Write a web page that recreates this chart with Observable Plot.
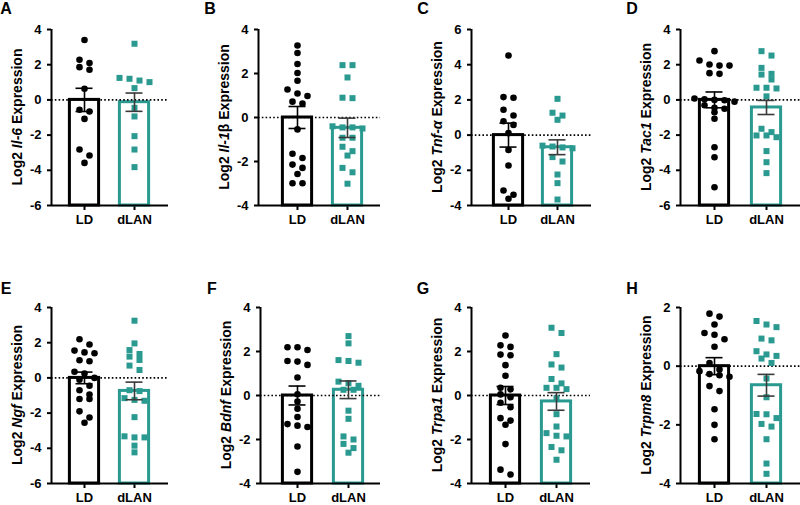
<!DOCTYPE html>
<html><head><meta charset="utf-8">
<script src="https://cdn.jsdelivr.net/npm/d3@7"></script>
<script src="https://cdn.jsdelivr.net/npm/@observablehq/plot@0.6"></script>
<style>
body{margin:0;background:#fff;}
#wrap{position:relative;width:800px;height:505px;overflow:hidden;background:#fff;}
#wrap svg{position:absolute;}
#wrap g[aria-label$="axis tick"]{stroke-width:2px;}
#wrap g[aria-label$="-axis"] line{stroke-width:2px;}
</style></head><body><div id="wrap"></div>
<script>
// ---- data ----
const panelLetters = ["A","B","C","D","E","F","G","H"];
const geneItalic = ["Il-6","Il-1","Tnf-α","Tac1","Ngf","Bdnf","Trpa1","Trpm8"];
const geneUpright = ["","β","","","","","",""];
const groups = ["LD","dLAN"];
const yMin = [-6,-4,-4,-6,-6,-4,-4,-4];
const yMax = [4,4,6,4,4,4,4,2];

const il6LD = [3.4,2.28,2.09,1.86,1.71,0.63,-0.56,-0.66,-1.08,-2.82,-3.16,-3.58];
const il6DLAN = [3.19,1.25,1.2,1.1,1.01,0.67,-0.45,-0.94,-2.06,-2.82,-3.82];
const il1bLD = [3.27,2.93,2.43,2.02,1.67,1.27,1.09,0.98,0.72,0.63,-0.54,-1.65,-1.84,-2.14,-2.29,-2.57,-2.99,-2.99];
const il1bDLAN = [2.38,2.38,1.82,0.9,0.88,-0.4,-0.45,-0.45,-0.5,-0.92,-0.92,-1.33,-1.53,-1.73,-2.29,-2.49,-3.01];
const tnfLD = [4.52,2.16,2.12,1.44,1.11,0.79,0.58,0.11,-0.84,-1.73,-3.15,-3.39,-3.62];
const tnfDLAN = [2.06,1.27,1.11,0.87,-0.6,-0.65,-0.7,-0.75,-1.25,-1.5,-2.24,-2.73,-3.66];
const tac1LD = [2.77,2.24,2.01,1.95,1.95,1.52,1.48,0.08,0.04,0.0,-0.02,-0.1,-0.3,-0.45,-0.5,-0.7,-1.07,-2.69,-3.26,-4.96];
const tac1DLAN = [2.77,2.52,1.82,1.48,1.44,1.16,0.69,0.69,0.65,0.2,-1.64,-1.83,-2.02,-2.02,-2.12,-2.91,-3.54,-4.16];
const ngfLD = [2.2,1.9,1.55,1.45,1.4,1.0,0.95,0.35,0.25,0.0,-0.1,-0.45,-0.7,-0.95,-1.2,-1.2,-1.9,-2.25,-2.55];
const ngfDLAN = [3.25,1.96,1.58,1.36,1.21,1.02,0.7,0.45,-0.7,-0.75,-1.15,-1.25,-1.3,-2.23,-3.32,-3.38,-3.38,-3.85,-4.23];
const bdnfLD = [2.19,2.19,2.07,1.57,1.54,1.39,0.82,0.06,-0.27,-0.6,-0.98,-1.3,-1.37,-1.43,-2.32,-3.47];
const bdnfDLAN = [2.7,2.37,1.61,1.57,1.49,0.63,0.56,0.44,0.26,0.26,-0.69,-1.06,-1.86,-2.0,-2.2,-2.39,-2.6];
const trpa1LD = [2.73,2.28,2.21,1.86,1.83,1.38,0.9,0.35,0.28,0.05,-0.08,-0.33,-0.53,-1.03,-1.14,-1.33,-2.21,-3.37,-3.59];
const trpa1DLAN = [3.08,2.84,1.88,1.41,1.27,0.75,0.55,0.35,0.35,0.29,-0.13,-0.85,-1.41,-1.71,-1.83,-1.86,-2.34,-2.49,-2.92];
const trpm8LD = [1.79,1.69,1.42,1.13,1.07,0.92,0.66,0.11,-0.11,-0.17,-0.27,-0.31,-0.36,-0.68,-0.85,-1.47,-2.0,-2.49];
const trpm8DLAN = [1.54,1.42,1.33,0.94,0.88,0.51,0.4,0.35,0.26,0.11,-0.42,-1.06,-1.63,-1.64,-1.77,-1.97,-2.06,-2.49,-3.32,-3.67];

const meanLD = [0,0,0,0,0,0,0,0];
const semLD = [0.66,0.5,0.68,0.45,0.33,0.43,0.41,0.29];
const meanDLAN = [-0.13,-0.47,-0.69,-0.43,-0.74,0.26,-0.27,-0.65];
const semDLAN = [0.52,0.44,0.42,0.4,0.5,0.4,0.4,0.37];

const ldData = [il6LD,il1bLD,tnfLD,tac1LD,ngfLD,bdnfLD,trpa1LD,trpm8LD];
const dlData = [il6DLAN,il1bDLAN,tnfDLAN,tac1DLAN,ngfDLAN,bdnfDLAN,trpa1DLAN,trpm8DLAN];

// ---- layout / style ----
const BLACK = "#000", TEAL = "#2a9a91", ERR2 = "#3a3a3a";
const FONT = "'Liberation Sans', Arial, Helvetica, sans-serif";
const axisX = [51,58,71,80,51,60,71,80];
const ldX = [33,39,37,34,33,37,34,34];
const dlX = [83,89,86,86,83,88,85,86];
const plotW = [117,122,120,120,117,120,119,120];
const CELL_W = 200, SVG_H = 227, MT = 29, MB = 22, ROW_DY = 278.3;

function swarmOffsets(vals, toPx, d, spacing) {
  const idx = vals.map((_, j) => j).sort((a, b) => vals[b] - vals[a]);
  const off = new Array(vals.length).fill(0);
  let row = [], rowStart = null;
  const flush = () => { const n = row.length; row.forEach((j, k) => { off[j] = (k - (n - 1) / 2) * spacing; }); row = []; };
  for (const j of idx) {
    const py = toPx(vals[j]);
    if (rowStart === null || py - rowStart >= d) { flush(); rowStart = py; }
    row.push(j);
  }
  flush();
  return off;
}

const wrap = document.getElementById("wrap");
for (let i = 0; i < 8; i++) {
  const col = i % 4, row = Math.floor(i / 4);
  const ph = SVG_H - MT - MB;
  const toPx = v => (yMax[i] - v) * ph / (yMax[i] - yMin[i]);
  const offL = swarmOffsets(ldData[i], toPx, 6.5, 10);
  const offD = swarmOffsets(dlData[i], toPx, 6.5, 10);
  const ldPts = ldData[i].map((v, j) => ({x: ldX[i] + offL[j], y: v}));
  const dlPts = dlData[i].map((v, j) => ({x: dlX[i] + offD[j], y: v}));
  const hw = 14.6;
  const barL = [{x1: ldX[i] - hw, x2: ldX[i] + hw, y1: yMin[i], y2: meanLD[i]}];
  const barD = [{x1: dlX[i] - hw, x2: dlX[i] + hw, y1: yMin[i], y2: meanDLAN[i]}];
  const errL = [{x: ldX[i], lo: meanLD[i] - semLD[i], hi: meanLD[i] + semLD[i]}];
  const errD = [{x: dlX[i], lo: meanDLAN[i] - semDLAN[i], hi: meanDLAN[i] + semDLAN[i]}];
  const cap = 8.5;
  const errMarks = (data, color) => [
    Plot.ruleX(data, {x: "x", y1: "lo", y2: "hi", stroke: color, strokeWidth: 1.6}),
    Plot.ruleY(data, {y: "hi", x1: d => d.x - cap, x2: d => d.x + cap, stroke: color, strokeWidth: 1.6}),
    Plot.ruleY(data, {y: "lo", x1: d => d.x - cap, x2: d => d.x + cap, stroke: color, strokeWidth: 1.6})
  ];
  const lx = ldX[i], dx = dlX[i];
  const svg = Plot.plot({
    width: CELL_W, height: SVG_H,
    marginLeft: axisX[i], marginRight: CELL_W - axisX[i] - plotW[i], marginTop: MT, marginBottom: MB,
    style: {fontFamily: FONT, fontSize: "13px", fontWeight: "bold", color: "black", background: "white", overflow: "visible"},
    x: {domain: [0, plotW[i]], ticks: [lx, dx], tickFormat: d => d === lx ? groups[0] : groups[1], tickSize: 5, tickPadding: 4, label: null},
    y: {domain: [yMin[i], yMax[i]], ticks: d3.range(yMin[i], yMax[i] + 0.01, 2), tickFormat: d => d < 0 ? "-" + (-d) : String(d), tickSize: 4, tickPadding: 6, label: null},
    marks: [
      Plot.rect(barL, {x1: "x1", x2: "x2", y1: "y1", y2: "y2", fill: "white", stroke: BLACK, strokeWidth: 3}),
      Plot.rect(barD, {x1: "x1", x2: "x2", y1: "y1", y2: "y2", fill: "white", stroke: TEAL, strokeWidth: 3}),
      Plot.ruleY([0], {x1: 0, x2: plotW[i], stroke: BLACK, strokeWidth: 1.6, strokeDasharray: "1.6,2.2"}),
      Plot.ruleX([0], {y1: yMin[i], y2: yMax[i], stroke: BLACK, strokeWidth: 2}),
      Plot.ruleY([yMin[i]], {x1: 0, x2: plotW[i], stroke: BLACK, strokeWidth: 2}),
      Plot.dot(ldPts, {x: "x", y: "y", r: 3.3, fill: BLACK, stroke: "none"}),
      Plot.dot(dlPts, {x: "x", y: "y", r: 3.4, symbol: "square", fill: TEAL, stroke: "none"}),
      ...errMarks(errL, BLACK),
      ...errMarks(errD, ERR2)
    ]
  });
  svg.style.left = (col * CELL_W) + "px";
  svg.style.top = (row * ROW_DY) + "px";
  const s = d3.select(svg);
  s.append("text").attr("x", Math.max(axisX[i] - 48, 6)).attr("y", row ? 16 : 14)
    .attr("font-size", 16).attr("font-weight", "bold").attr("fill", "black").text(panelLetters[i]);
  const t = s.append("text")
    .attr("transform", `translate(${axisX[i] - 34},${MT + ph / 2}) rotate(-90)`)
    .attr("text-anchor", "middle").attr("dy", "0.35em")
    .attr("font-size", 14).attr("font-weight", "bold").attr("fill", "black");
  t.append("tspan").text("Log2 ");
  t.append("tspan").attr("font-style", "italic").text(geneItalic[i]);
  if (geneUpright[i]) t.append("tspan").text(geneUpright[i]);
  t.append("tspan").text(" Expression");
  wrap.appendChild(svg);
}
</script></body></html>
